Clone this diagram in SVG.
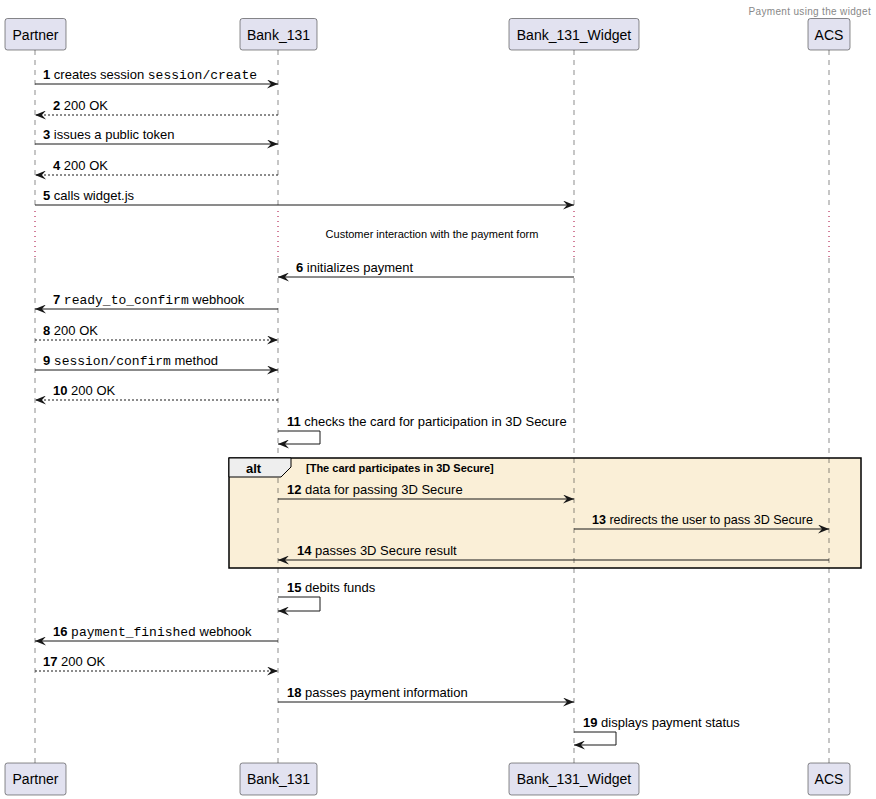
<svg xmlns="http://www.w3.org/2000/svg" width="876" height="799" viewBox="0 0 876 799">
<style>
.box{fill:#E2E2F0;stroke:#181818;stroke-width:0.5}
.pname{font-family:"Liberation Sans",Arial,sans-serif;font-size:14px;text-anchor:middle;fill:#000}
.life{stroke:#181818;stroke-width:0.5;stroke-dasharray:5,5;fill:none}
.delay{stroke:#A80036;stroke-width:1;stroke-dasharray:1,4;fill:none}
.msg{stroke:#181818;stroke-width:1;fill:none}
.ret{stroke-dasharray:2,2}
.lbl{font-family:"Liberation Sans",Arial,sans-serif;font-size:13px;fill:#000}
.n{font-weight:bold}
.m{font-family:"Liberation Mono","Courier New",monospace}
.small{font-family:"Liberation Sans",Arial,sans-serif;font-size:11px;fill:#000}
.title{font-family:"Liberation Sans",Arial,sans-serif;font-size:10px;fill:#888888;letter-spacing:0.33px;text-anchor:end}
</style>
<defs>
<marker id="ah" viewBox="0 0 11 9" refX="11" refY="4.5" markerWidth="11" markerHeight="9" markerUnits="userSpaceOnUse" orient="auto">
<path d="M0,0 L11,4.5 L0,9 L4,4.5 Z" fill="#181818" stroke="none"/>
</marker>
</defs>
<rect width="876" height="799" fill="#FFFFFF"/>
<text class="title" x="871" y="15">Payment using the widget</text>

<g id="alt-frame-bg">
<rect x="229" y="458" width="632" height="110" fill="#FAEFD7"/>
</g>

<g id="Partner">
<path class="life" d="M35,50 V210"/>
<path class="delay" d="M35,211 V257"/>
<path class="life" d="M35,258 V763"/>
<rect class="box" x="5" y="18.5" width="61" height="31.5" rx="2.5"/>
<text class="pname" x="35.5" y="39.5">Partner</text>
<rect class="box" x="5" y="763" width="61" height="32" rx="2.5"/>
<text class="pname" x="35.5" y="783.5">Partner</text>
</g>

<g id="Bank_131">
<path class="life" d="M278,50 V210"/>
<path class="delay" d="M278,211 V257"/>
<path class="life" d="M278,258 V763"/>
<rect class="box" x="240" y="18.5" width="77" height="31.5" rx="2.5"/>
<text class="pname" x="278.5" y="39.5">Bank_131</text>
<rect class="box" x="240" y="763" width="77" height="32" rx="2.5"/>
<text class="pname" x="278.5" y="783.5">Bank_131</text>
</g>

<g id="Bank_131_Widget">
<path class="life" d="M574,50 V210"/>
<path class="delay" d="M574,211 V257"/>
<path class="life" d="M574,258 V763"/>
<rect class="box" x="509" y="18.5" width="130" height="31.5" rx="2.5"/>
<text class="pname" x="574" y="39.5">Bank_131_Widget</text>
<rect class="box" x="509" y="763" width="130" height="32" rx="2.5"/>
<text class="pname" x="574" y="783.5">Bank_131_Widget</text>
</g>

<g id="ACS">
<path class="life" d="M829,50 V210"/>
<path class="delay" d="M829,211 V257"/>
<path class="life" d="M829,258 V763"/>
<rect class="box" x="808" y="18.5" width="42" height="31.5" rx="2.5"/>
<text class="pname" x="829" y="39.5">ACS</text>
<rect class="box" x="808" y="763" width="42" height="32" rx="2.5"/>
<text class="pname" x="829" y="783.5">ACS</text>
</g>

<g id="alt-frame">
<rect x="229" y="458" width="632" height="110" fill="none" stroke="#000" stroke-width="1.5"/>
<path d="M229,458 H291 V467 L281,477 H229 Z" fill="#EEEEEE" stroke="#000" stroke-width="1"/>
<text class="lbl n" x="246" y="472.5">alt</text>
<text class="small n" x="306" y="472">[The card participates in 3D Secure]</text>
</g>

<g id="delay-note">
<text class="small" x="432" y="238" text-anchor="middle">Customer interaction with the payment form</text>
</g>

<g id="connectors">
<g id="m1"><path class="msg" d="M35,84 H278" marker-end="url(#ah)"/><text class="lbl" x="43" y="78.5"><tspan class="n">1</tspan> creates session <tspan class="m">session/create</tspan></text></g>
<g id="m2"><path class="msg ret" d="M278,115 H35" marker-end="url(#ah)"/><text class="lbl" x="53" y="109.5"><tspan class="n">2</tspan> 200 OK</text></g>
<g id="m3"><path class="msg" d="M35,144 H278" marker-end="url(#ah)"/><text class="lbl" x="43" y="138.5"><tspan class="n">3</tspan> issues a public token</text></g>
<g id="m4"><path class="msg ret" d="M278,175 H35" marker-end="url(#ah)"/><text class="lbl" x="53" y="169.5"><tspan class="n">4</tspan> 200 OK</text></g>
<g id="m5"><path class="msg" d="M35,205 H574" marker-end="url(#ah)"/><text class="lbl" x="43" y="199.5"><tspan class="n">5</tspan> calls widget.js</text></g>
<g id="m6"><path class="msg" d="M574,277 H278" marker-end="url(#ah)"/><text class="lbl" x="296" y="272"><tspan class="n">6</tspan> initializes payment</text></g>
<g id="m7"><path class="msg" d="M278,309 H35" marker-end="url(#ah)"/><text class="lbl" x="53" y="303.5"><tspan class="n">7</tspan> <tspan class="m">ready_to_confirm</tspan> webhook</text></g>
<g id="m8"><path class="msg ret" d="M35,340 H278" marker-end="url(#ah)"/><text class="lbl" x="43" y="334.5"><tspan class="n">8</tspan> 200 OK</text></g>
<g id="m9"><path class="msg" d="M35,370 H278" marker-end="url(#ah)"/><text class="lbl" x="43" y="364.5"><tspan class="n">9</tspan> <tspan class="m">session/confirm</tspan> method</text></g>
<g id="m10"><path class="msg ret" d="M278,400 H35" marker-end="url(#ah)"/><text class="lbl" x="53" y="394.5"><tspan class="n">10</tspan> 200 OK</text></g>
<g id="m11"><path class="msg" d="M278,431 H320 V444 H278" marker-end="url(#ah)"/><text class="lbl" x="287" y="426"><tspan class="n">11</tspan> checks the card for participation in 3D Secure</text></g>
<g id="m12"><path class="msg" d="M278,499 H574" marker-end="url(#ah)"/><text class="lbl" x="287" y="493.5"><tspan class="n">12</tspan> data for passing 3D Secure</text></g>
<g id="m13"><path class="msg" d="M574,529 H829" marker-end="url(#ah)"/><text class="lbl" x="592" y="523.5" textLength="221" lengthAdjust="spacingAndGlyphs"><tspan class="n">13</tspan> redirects the user to pass 3D Secure</text></g>
<g id="m14"><path class="msg" d="M829,560 H278" marker-end="url(#ah)"/><text class="lbl" x="297" y="554.5"><tspan class="n">14</tspan> passes 3D Secure result</text></g>
<g id="m15"><path class="msg" d="M278,597 H320 V611 H278" marker-end="url(#ah)"/><text class="lbl" x="287" y="592"><tspan class="n">15</tspan> debits funds</text></g>
<g id="m16"><path class="msg" d="M278,641 H35" marker-end="url(#ah)"/><text class="lbl" x="53" y="635.5"><tspan class="n">16</tspan> <tspan class="m">payment_finished</tspan> webhook</text></g>
<g id="m17"><path class="msg ret" d="M35,671 H278" marker-end="url(#ah)"/><text class="lbl" x="43" y="665.5"><tspan class="n">17</tspan> 200 OK</text></g>
<g id="m18"><path class="msg" d="M278,702 H574" marker-end="url(#ah)"/><text class="lbl" x="287" y="696.5"><tspan class="n">18</tspan> passes payment information</text></g>
<g id="m19"><path class="msg" d="M574,732 H616 V745 H574" marker-end="url(#ah)"/><text class="lbl" x="583" y="727"><tspan class="n">19</tspan> displays payment status</text></g>
</g>
</svg>
